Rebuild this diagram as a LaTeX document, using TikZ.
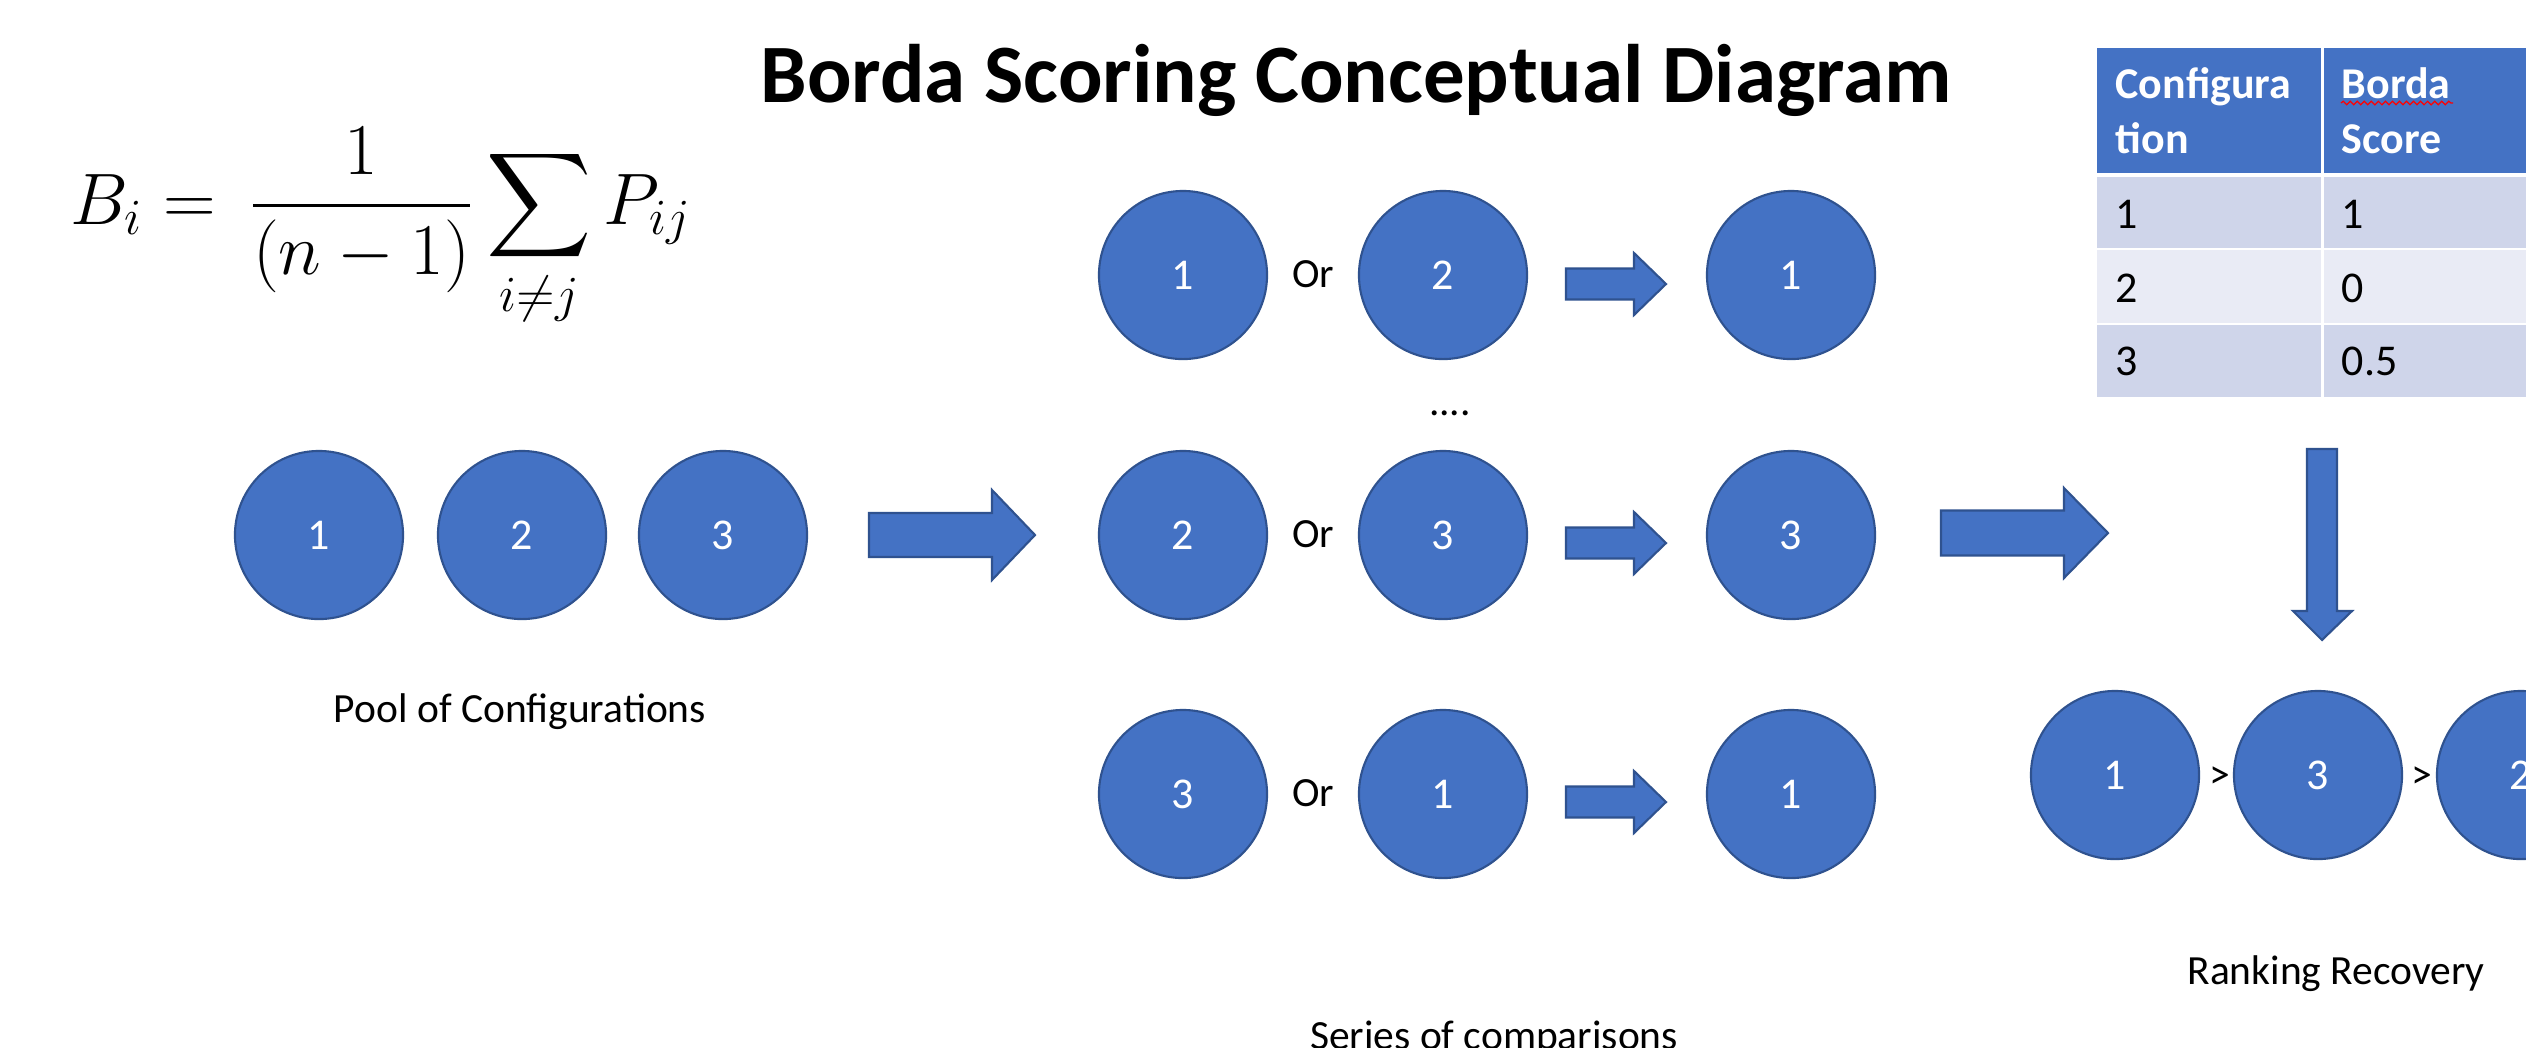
\documentclass[tikz,border=0pt]{standalone}
\usepackage{amsmath}
\usepackage{fontspec}
\setmainfont{Carlito}
\usetikzlibrary{decorations.pathmorphing}

\definecolor{cblue}{HTML}{4472C4}
\definecolor{cborder}{HTML}{2F528F}
\definecolor{rowdark}{HTML}{CFD5EA}
\definecolor{rowlight}{HTML}{E9EBF5}

% horizontal block arrow: start x, head base x, tip x, centre y, shaft half width, head half width
\newcommand\harrow[6]{%
  \draw[blockarrow] (#1,{#4-#5}) -- (#2,{#4-#5}) -- (#2,{#4-#6}) -- (#3,#4)
    -- (#2,{#4+#6}) -- (#2,{#4+#5}) -- (#1,{#4+#5}) -- cycle;}

\begin{document}
\begin{tikzpicture}[x=0.01cm, y=-0.01cm,
  conf/.style={circle, fill=cblue, draw=cborder, line width=0.6pt,
    minimum size=1.68cm, inner sep=0pt, text=white, font=\fontsize{12.5}{15}\selectfont},
  blockarrow/.style={fill=cblue, draw=cborder, line width=0.6pt, line join=miter},
  lbl/.style={anchor=base, inner sep=0pt, font=\fontsize{11.8}{14}\selectfont},
  cell/.style={anchor=base west, inner sep=0pt, font=\fontsize{12.5}{15}\selectfont},
  head/.style={anchor=base west, inner sep=0pt, text=white, font=\fontsize{12.5}{15}\selectfont\bfseries},
]
\useasboundingbox (0,0) rectangle (2526,1047);
\clip (0,0) rectangle (2526,1047);
\fill[white] (0,0) rectangle (2526,1047);

% title and formula
\node[anchor=base, inner sep=0pt, font=\fontsize{23.6}{28}\selectfont\bfseries] (title) at (1356,102)
  {Borda Scoring Conceptual Diagram};
\node[anchor=base west, inner sep=0pt, font=\fontsize{19.5}{23}\selectfont] (formula) at (70,224)
  {$\displaystyle B_i=\,\frac{1}{(n-1)}\sum_{i\neq j}P_{ij}$};

% pool of configurations
\node[conf] (p1) at (319,535) {1};
\node[conf] (p2) at (522,535) {2};
\node[conf] (p3) at (723,535) {3};
\node[lbl] (pool) at (520,722) {Pool of Configurations};
\harrow{869}{992}{1035}{535}{22}{45}

% pairwise comparisons
\node[conf] (a1) at (1183,275) {1};
\node[lbl] (or1) at (1313,287) {Or};
\node[conf] (a2) at (1443,275) {2};
\harrow{1566}{1634}{1666}{284}{15.5}{31}
\node[conf] (aw) at (1791,275) {1};

\node[lbl] (dots) at (1450,415) {....};

\node[conf] (b1) at (1183,535) {2};
\node[lbl] (or2) at (1313,547) {Or};
\node[conf] (b2) at (1443,535) {3};
\harrow{1566}{1634}{1666}{543}{15.5}{31}
\node[conf] (bw) at (1791,535) {3};

\node[conf] (c1) at (1183,794) {3};
\node[lbl] (or3) at (1313,806) {Or};
\node[conf] (c2) at (1443,794) {1};
\harrow{1566}{1634}{1666}{802}{15.5}{31}
\node[conf] (cw) at (1791,794) {1};

\node[lbl] (series) at (1494,1049) {Series of comparisons};
\harrow{1941}{2064}{2108}{533}{22.5}{45}

% score table
\fill[cblue] (2097,48) rectangle (2321,173);
\fill[cblue] (2324,48) rectangle (2560,173);
\fill[rowdark] (2097,177) rectangle (2321,248);
\fill[rowdark] (2324,177) rectangle (2560,248);
\fill[rowlight] (2097,250) rectangle (2321,323);
\fill[rowlight] (2324,250) rectangle (2560,323);
\fill[rowdark] (2097,325) rectangle (2321,397);
\fill[rowdark] (2324,325) rectangle (2560,397);
\node[head] (h1a) at (2115,98) {Configura};
\node[head] (h1b) at (2115,153) {tion};
\node[head] (h2a) at (2341,98) {Borda};
\node[head] (h2b) at (2341,153) {Score};
\draw[red, line width=0.35pt, decorate, decoration={snake, amplitude=0.5pt, segment length=2pt}]
  (2341,103) -- (2453,103);
\node[cell] (r1a) at (2115,228) {1};
\node[cell] (r1b) at (2341,228) {1};
\node[cell] (r2a) at (2115,302) {2};
\node[cell] (r2b) at (2341,302) {0};
\node[cell] (r3a) at (2115,375) {3};
\node[cell] (r3b) at (2341,375) {0.5};

% down arrow into the ranking
\draw[blockarrow] (2307,449) -- (2337,449) -- (2337,611) -- (2352,611) -- (2322,640)
  -- (2293,611) -- (2307,611) -- cycle;

% recovered ranking
\node[conf] (k1) at (2115,775) {1};
\node[conf] (k2) at (2318,775) {3};
\node[conf] (k3) at (2521,775) {2};
\node[lbl] (gt1) at (2220,788) {>};
\node[lbl] (gt2) at (2422,788) {>};
\node[lbl] (rank) at (2336,984) {Ranking Recovery};
\end{tikzpicture}
\end{document}
